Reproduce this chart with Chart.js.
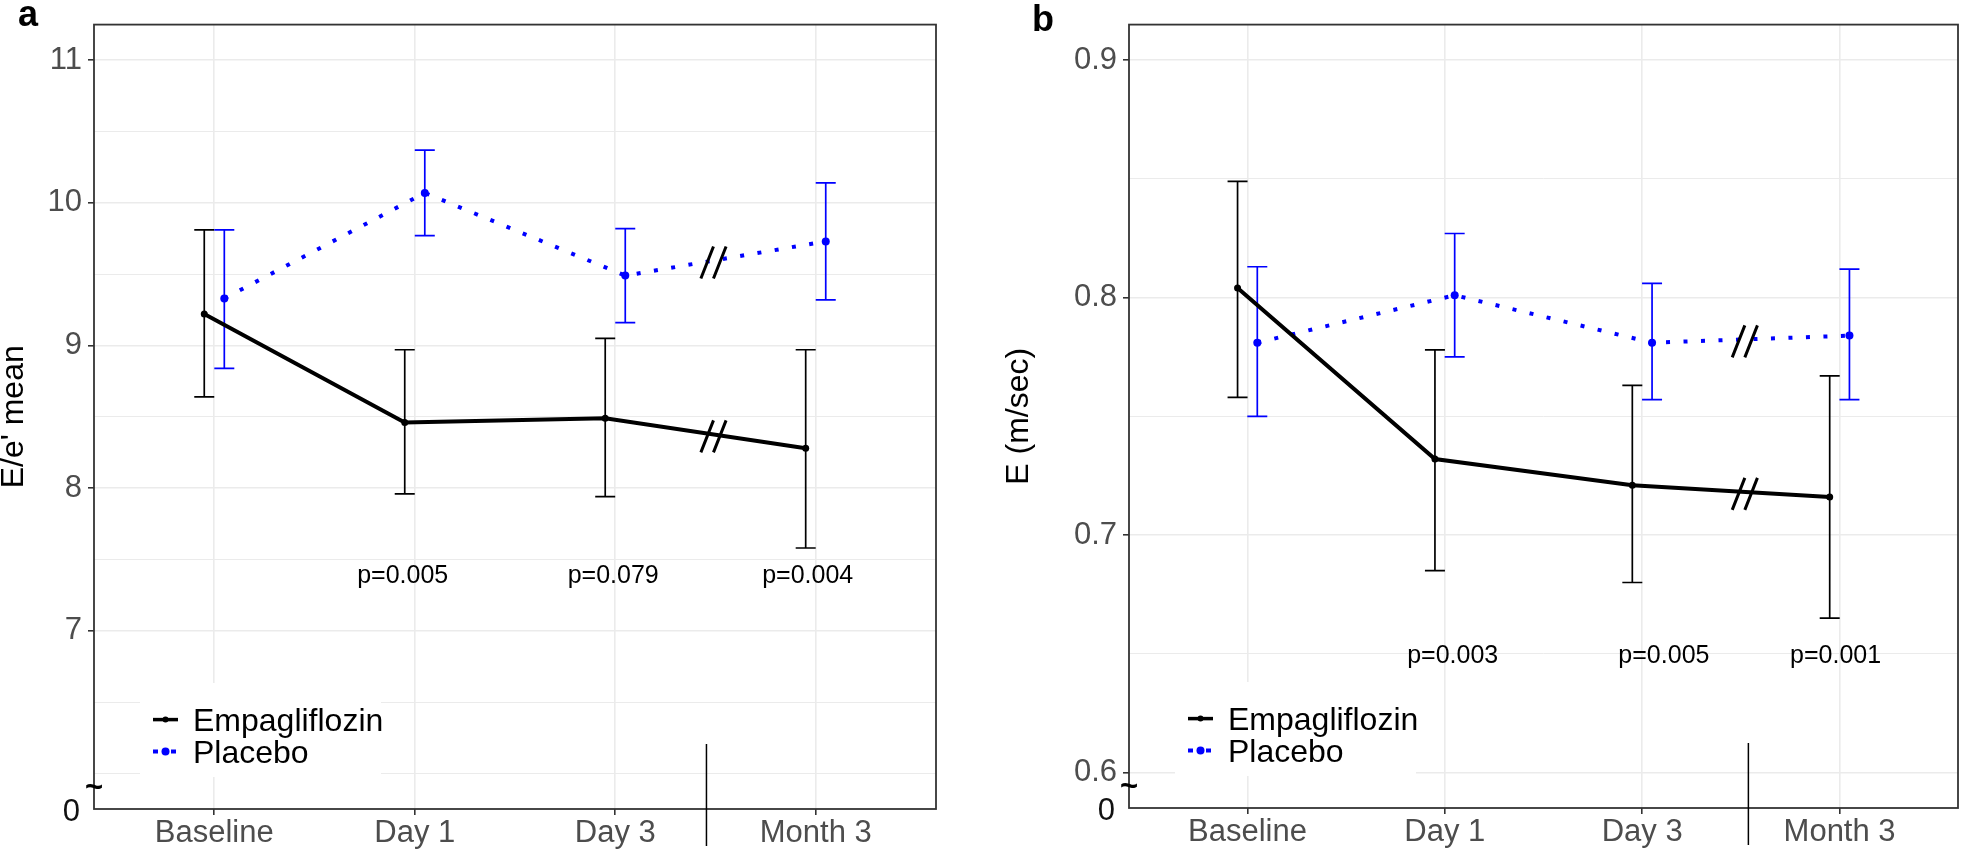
<!DOCTYPE html>
<html><head><meta charset="utf-8">
<script src="https://cdn.jsdelivr.net/npm/chart.js@4"></script>
<style>
html,body{margin:0;padding:0;background:#fff;width:1962px;height:867px;overflow:hidden}
canvas{position:absolute;top:0}
#ca{left:0px}
#cb{left:981px}
</style></head><body>
<canvas id="ca" width="981" height="867"></canvas>
<canvas id="cb" width="981" height="867"></canvas>
<script>
// ---------- data ----------
const categories = ['Baseline', 'Day 1', 'Day 3', 'Month 3'];
const seriesNames = ['Empagliflozin', 'Placebo'];

// Panel a: E/e' mean
const empA     = [9.22, 8.46, 8.49, 8.28];
const empALow  = [8.64, 7.96, 7.94, 7.58];
const empAHigh = [9.81, 8.97, 9.05, 8.97];
const plaA     = [9.33, 10.07, 9.49, 9.73];
const plaALow  = [8.84, 9.77, 9.16, 9.32];
const plaAHigh = [9.81, 10.37, 9.82, 10.14];
const pTextA = ['p=0.005', 'p=0.079', 'p=0.004'];
const pXA    = [0.94, 1.99, 2.96];
const pYA    = [7.40, 7.40, 7.40];
const yMajorA = [7, 8, 9, 10, 11];
const yMinorA = [6, 6.5, 7.5, 8.5, 9.5, 10.5];

// Panel b: E (m/sec)
const empB     = [0.804, 0.732, 0.721, 0.716];
const empBLow  = [0.758, 0.685, 0.680, 0.665];
const empBHigh = [0.849, 0.778, 0.763, 0.767];
const plaB     = [0.781, 0.801, 0.781, 0.784];
const plaBLow  = [0.750, 0.775, 0.757, 0.757];
const plaBHigh = [0.813, 0.827, 0.806, 0.812];
const pTextB = ['p=0.003', 'p=0.005', 'p=0.001'];
const pXB    = [1.04, 2.11, 2.98];
const pYB    = [0.650, 0.650, 0.650];
const yMajorB = [0.6, 0.7, 0.8, 0.9];
const yMinorB = [0.65, 0.75, 0.85];

// ---------- rendering ----------
const FONT = '"Liberation Sans", Arial, Helvetica, sans-serif';
const BLUE = '#0000FF';
const DODGE = 0.05;

function makePanel(id, P) {
  const extras = {
    id: 'extras',
    beforeDatasetsDraw(chart) {
      const {ctx, scales: {x, y}} = chart;
      ctx.save();
      ctx.lineWidth = 1.7;
      [[P.empLow, P.empHigh, -DODGE, '#000000'], [P.plaLow, P.plaHigh, DODGE, BLUE]].forEach(([lo, hi, d, col]) => {
        ctx.strokeStyle = col;
        ctx.beginPath();
        lo.forEach((l, i) => {
          const px = x.getPixelForValue(i + d);
          const pl = y.getPixelForValue(l);
          const ph = y.getPixelForValue(hi[i]);
          ctx.moveTo(px, ph); ctx.lineTo(px, pl);
          ctx.moveTo(px - 10, ph); ctx.lineTo(px + 10, ph);
          ctx.moveTo(px - 10, pl); ctx.lineTo(px + 10, pl);
        });
        ctx.stroke();
      });
      ctx.restore();
    },
    afterDatasetsDraw(chart) {
      const {ctx, scales: {x, y}} = chart;
      ctx.save();
      // break marks "//" on each line
      ctx.strokeStyle = '#000';
      ctx.lineWidth = 3;
      [[P.emp, -DODGE], [P.pla, DODGE]].forEach(([vals, d]) => {
        const t = P.breakX - 2 - d;
        const v = vals[2] + t * (vals[3] - vals[2]);
        const cx = x.getPixelForValue(P.breakX);
        const cy = y.getPixelForValue(v) + 2;
        ctx.beginPath();
        [-6.3, 6.3].forEach(s => {
          ctx.moveTo(cx + s - 6.3, cy + 16);
          ctx.lineTo(cx + s + 6.3, cy - 16);
        });
        ctx.stroke();
      });
      // p-values
      ctx.fillStyle = '#000';
      ctx.font = '25px ' + FONT;
      ctx.textAlign = 'center';
      ctx.textBaseline = 'alphabetic';
      P.pText.forEach((t, i) => {
        ctx.fillText(t, x.getPixelForValue(P.pX[i]), y.getPixelForValue(P.pY[i]) + 0.358 * 25);
      });
      ctx.restore();
    },
    afterDraw(chart) {
      const {ctx, chartArea: {left: L, right: R, top: T, bottom: B}, scales: {x}} = chart;
      ctx.save();
      // legend
      ctx.fillStyle = '#fff';
      ctx.fillRect(L + 46, B - 126, 241, 94);
      const r1 = B - 89.4, r2 = B - 57.6, sx = L + 59;
      ctx.strokeStyle = '#000'; ctx.lineWidth = 3.5; ctx.setLineDash([]);
      ctx.beginPath(); ctx.moveTo(sx, r1); ctx.lineTo(sx + 25, r1); ctx.stroke();
      ctx.fillStyle = '#000';
      ctx.beginPath(); ctx.arc(sx + 12.5, r1, 3, 0, Math.PI * 2); ctx.fill();
      ctx.strokeStyle = BLUE; ctx.lineWidth = 4; ctx.setLineDash([5, 13]);
      ctx.beginPath(); ctx.moveTo(sx, r2); ctx.lineTo(sx + 25, r2); ctx.stroke();
      ctx.setLineDash([]);
      ctx.fillStyle = BLUE;
      ctx.beginPath(); ctx.arc(sx + 12.5, r2, 4, 0, Math.PI * 2); ctx.fill();
      ctx.fillStyle = '#000';
      ctx.font = '32px ' + FONT;
      ctx.textAlign = 'left'; ctx.textBaseline = 'alphabetic';
      ctx.fillText(seriesNames[0], L + 99, r1 + 11.5);
      ctx.fillText(seriesNames[1], L + 99, r2 + 11.5);
      // panel border
      ctx.strokeStyle = '#333333'; ctx.lineWidth = 1.8;
      ctx.strokeRect(L, T, R - L, B - T);
      // separator between Day 3 and Month 3
      const sxp = x.getPixelForValue(P.sepX);
      ctx.strokeStyle = '#000'; ctx.lineWidth = 1.5;
      ctx.beginPath(); ctx.moveTo(sxp, B - 65); ctx.lineTo(sxp, B + 37); ctx.stroke();
      // axis break: "0" and "~"
      ctx.fillStyle = '#111';
      ctx.font = '31px ' + FONT;
      ctx.textAlign = 'right';
      ctx.fillText('0', L - 14, B + 0.5 + 0.358 * 31);
      ctx.font = 'bold 31px ' + FONT;
      ctx.textAlign = 'center'; ctx.textBaseline = 'middle';
      ctx.fillStyle = '#000';
      ctx.fillText('~', L, B - 21);
      // panel letter
      ctx.font = 'bold 36px ' + FONT;
      ctx.textAlign = 'left'; ctx.textBaseline = 'alphabetic';
      ctx.fillText(P.letter, P.letterX, P.letterY);
      ctx.restore();
    }
  };

  return new Chart(document.getElementById(id), {
    type: 'line',
    data: {
      datasets: [
        {
          label: seriesNames[0],
          data: P.emp.map((v, i) => ({x: i - DODGE, y: v})),
          borderColor: '#000', backgroundColor: '#000',
          borderWidth: 4, tension: 0,
          pointRadius: 3.5, pointBackgroundColor: '#000', pointBorderWidth: 0
        },
        {
          label: seriesNames[1],
          data: P.pla.map((v, i) => ({x: i + DODGE, y: v})),
          borderColor: BLUE, backgroundColor: BLUE,
          borderWidth: 4, borderDash: [4, 13.5], borderCapStyle: 'butt', tension: 0,
          pointRadius: 4, pointBackgroundColor: BLUE, pointBorderWidth: 0
        }
      ]
    },
    options: {
      responsive: false,
      animation: false,
      devicePixelRatio: 1,
      layout: {padding: {left: 0, top: 15, right: P.padRight, bottom: 0}},
      plugins: {legend: {display: false}, tooltip: {enabled: false}},
      scales: {
        x: {
          type: 'linear', min: -0.6, max: 3.6,
          afterBuildTicks: s => { s.ticks = categories.map((c, i) => ({value: i})); },
          afterFit: s => { s.height = P.xAxisH; },
          ticks: {
            callback: v => categories[v] ?? '',
            color: '#4D4D4D', font: {family: FONT, size: 31, lineHeight: 1.2},
            padding: 0, autoSkip: false, maxRotation: 0, minRotation: 0
          },
          grid: {color: '#EBEBEB', lineWidth: 1.6, tickColor: '#333333', tickLength: 6},
          border: {display: false}
        },
        y: {
          type: 'linear', min: P.yMin, max: P.yMax,
          afterBuildTicks: s => { s.ticks = [...P.major, ...P.minor].sort((a, b) => a - b).map(v => ({value: v})); },
          afterFit: s => { s.width = P.yAxisW; },
          ticks: {
            callback: v => P.major.includes(v) ? String(v) : '',
            color: '#4D4D4D', font: {family: FONT, size: 31}, padding: 6, autoSkip: false
          },
          grid: {
            color: '#EBEBEB',
            lineWidth: c => (c.tick && P.major.includes(c.tick.value)) ? 1.6 : 1.0,
            tickColor: c => (c.tick && P.major.includes(c.tick.value)) ? '#333333' : 'rgba(0,0,0,0)',
            tickLength: 6
          },
          border: {display: false},
          title: {
            display: true, text: P.yTitle, color: '#000',
            font: {family: FONT, size: 32, lineHeight: 1},
            padding: {top: P.titlePad, bottom: 0}
          }
        }
      }
    },
    plugins: [extras]
  });
}

makePanel('ca', {
  emp: empA, empLow: empALow, empHigh: empAHigh,
  pla: plaA, plaLow: plaALow, plaHigh: plaAHigh,
  pText: pTextA, pX: pXA, pY: pYA,
  major: yMajorA, minor: yMinorA,
  yMin: 5.75, yMax: 11.25, yTitle: "E/e' mean",
  yAxisW: 94, xAxisH: 58, padRight: 45, titlePad: -2,
  breakX: 2.49, sepX: 2.455,
  letter: 'a', letterX: 18, letterY: 26
});

makePanel('cb', {
  emp: empB, empLow: empBLow, empHigh: empBHigh,
  pla: plaB, plaLow: plaBLow, plaHigh: plaBHigh,
  pText: pTextB, pX: pXB, pY: pYB,
  major: yMajorB, minor: yMinorB,
  yMin: 0.585, yMax: 0.915, yTitle: 'E (m/sec)',
  yAxisW: 148, xAxisH: 59, padRight: 2, titlePad: 22,
  breakX: 2.52, sepX: 2.538,
  letter: 'b', letterX: 51, letterY: 31
});
</script>
</body></html>
